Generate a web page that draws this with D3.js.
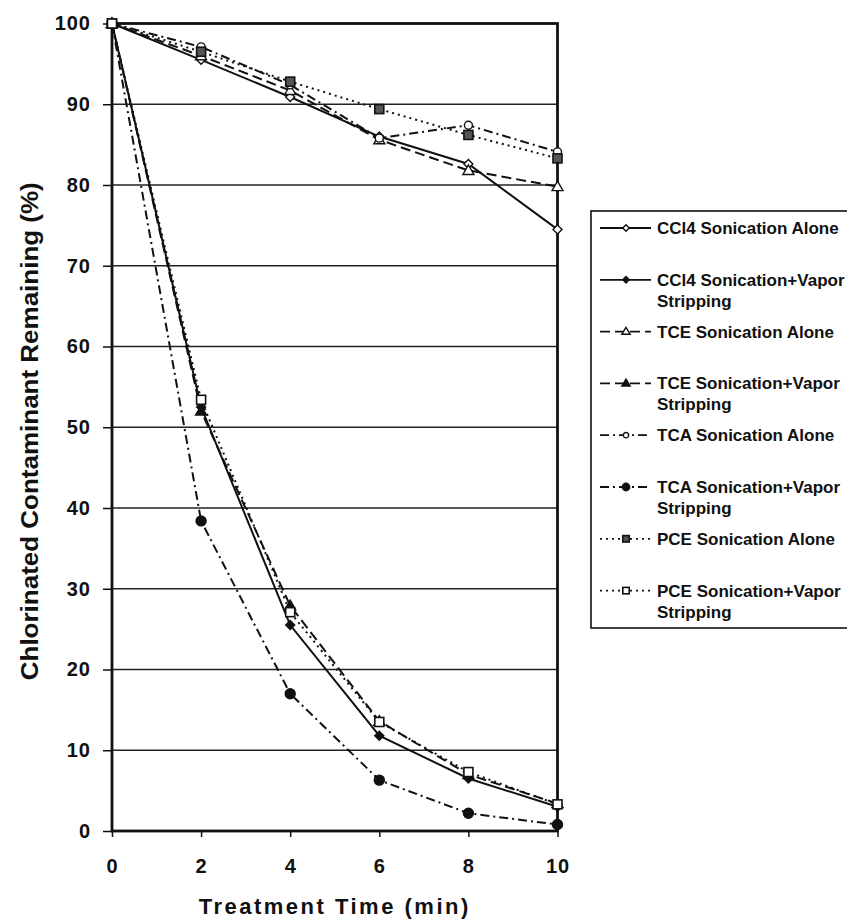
<!DOCTYPE html>
<html>
<head>
<meta charset="utf-8">
<script src="https://cdn.jsdelivr.net/npm/d3@7"></script>
<style>
  body { margin: 0; background: #fff; }
  svg { display: block; }
  text { fill: #111; font-family: "Liberation Sans", Arial, sans-serif; font-weight: bold; }
</style>
</head>
<body>
<svg width="847" height="922"></svg>
<script>
// data
var times = [0, 2, 4, 6, 8, 10];
var ccl4Alone = [100, 95.5, 90.9, 86.0, 82.6, 74.5];
var ccl4Vapor = [100, 52.5, 25.5, 11.8, 6.5, 3.0];
var tceAlone  = [100, 96.0, 91.7, 85.6, 81.8, 79.8];
var tceVapor  = [100, 52.0, 27.9, 13.6, 7.0, 3.4];
var tcaAlone  = [100, 97.1, 92.4, 85.8, 87.4, 84.1];
var tcaVapor  = [100, 38.4, 17.0, 6.3, 2.2, 0.8];
var pceAlone  = [100, 96.5, 92.8, 89.4, 86.2, 83.3];
var pceVapor  = [100, 53.4, 27.1, 13.5, 7.3, 3.3];

var seriesNames = ["CCl4 Sonication Alone", "CCl4 Sonication+Vapor Stripping",
                   "TCE Sonication Alone", "TCE Sonication+Vapor Stripping",
                   "TCA Sonication Alone", "TCA Sonication+Vapor Stripping",
                   "PCE Sonication Alone", "PCE Sonication+Vapor Stripping"];
var seriesValues = [ccl4Alone, ccl4Vapor, tceAlone, tceVapor, tcaAlone, tcaVapor, pceAlone, pceVapor];
var yTicks = [0, 10, 20, 30, 40, 50, 60, 70, 80, 90, 100];
var xTicks = [0, 2, 4, 6, 8, 10];

// line + marker look for each series
var styles = [
  {dash: null,            marker: "diamond",  fill: "#fff"},
  {dash: null,            marker: "diamond",  fill: "#111"},
  {dash: "10,5",          marker: "triangle", fill: "#fff"},
  {dash: "10,5",          marker: "triangle", fill: "#111"},
  {dash: "9,4,2,4",       marker: "circle",   fill: "#fff"},
  {dash: "9,4,2,4",       marker: "circle",   fill: "#111"},
  {dash: "2,4",           marker: "square",   fill: "#555"},
  {dash: "2,4",           marker: "square",   fill: "#fff"}
];

var svg = d3.select("svg");
var plotLeft = 112, plotRight = 557.5, plotTop = 23.5, plotBottom = 831;

var x = d3.scaleLinear().domain([0, 10]).range([plotLeft, plotRight]);
var y = d3.scaleLinear().domain([0, 100]).range([plotBottom, plotTop]);

svg.append("rect").attr("width", 847).attr("height", 922).attr("fill", "#fff");

// gridlines
svg.append("g").selectAll("line")
  .data(yTicks.filter(function(d) { return d > 0 && d < 100; }))
  .enter().append("line")
  .attr("x1", plotLeft).attr("x2", plotRight)
  .attr("y1", function(d) { return y(d); })
  .attr("y2", function(d) { return y(d); })
  .attr("stroke", "#222").attr("stroke-width", 1.3);

// axes
var yAxis = svg.append("g")
  .attr("transform", "translate(" + plotLeft + ",0)")
  .call(d3.axisLeft(y).tickValues(yTicks).tickSize(9).tickPadding(12));
var xAxis = svg.append("g")
  .attr("transform", "translate(0," + plotBottom + ")")
  .call(d3.axisBottom(x).tickValues(xTicks).tickSize(6).tickPadding(22));

[yAxis, xAxis].forEach(function(a) {
  a.select(".domain").remove();
  a.selectAll(".tick line").attr("stroke", "#111").attr("stroke-width", 1.5);
  a.selectAll(".tick text")
    .style("font-size", "20px").style("font-weight", "bold")
    .style("letter-spacing", "1px")
    .style("font-family", "'Liberation Sans', Arial, sans-serif")
    .attr("fill", "#111");
});

// plot frame
svg.append("rect")
  .attr("x", plotLeft).attr("y", plotTop)
  .attr("width", plotRight - plotLeft).attr("height", plotBottom - plotTop)
  .attr("fill", "none").attr("stroke", "#111").attr("stroke-width", 2.8);

// axis titles
svg.append("text")
  .attr("x", (plotLeft + plotRight) / 2).attr("y", 914)
  .attr("text-anchor", "middle")
  .style("font-size", "22px").style("letter-spacing", "2.5px")
  .text("Treatment Time (min)");

svg.append("text")
  .attr("transform", "translate(38," + ((plotTop + plotBottom) / 2 + 4) + ") rotate(-90)")
  .attr("text-anchor", "middle")
  .attr("textLength", 498)
  .attr("lengthAdjust", "spacingAndGlyphs")
  .style("font-size", "24px")
  .text("Chlorinated Contaminant Remaining (%)");

function drawMarker(sel, kind, fill, size) {
  var s = size || 4.5;
  if (kind == "circle") {
    sel.append("circle").attr("r", fill == "#111" ? s + 0.5 : s - 0.5)
      .attr("fill", fill).attr("stroke", "#111").attr("stroke-width", 1.4);
  } else if (kind == "square") {
    sel.append("rect").attr("x", -s).attr("y", -s).attr("width", 2 * s).attr("height", 2 * s)
      .attr("fill", fill).attr("stroke", "#111").attr("stroke-width", 1.6);
  } else if (kind == "triangle") {
    sel.append("path").attr("d", "M0," + (-s - 1) + "L" + (s + 1) + "," + (s - 0.5) + "L" + (-s - 1) + "," + (s - 0.5) + "Z")
      .attr("fill", fill).attr("stroke", "#111").attr("stroke-width", 1.4);
  } else {
    sel.append("path").attr("d", "M0," + (-s) + "L" + s + ",0L0," + s + "L" + (-s) + ",0Z")
      .attr("fill", fill).attr("stroke", "#111").attr("stroke-width", 1.4);
  }
}

var line = d3.line()
  .x(function(d, i) { return x(times[i]); })
  .y(function(d) { return y(d); });

var series = svg.append("g").selectAll("g")
  .data(seriesValues)
  .enter().append("g");

series.append("path")
  .attr("d", function(d) { return line(d); })
  .attr("fill", "none")
  .attr("stroke", "#111")
  .attr("stroke-width", 2)
  .attr("stroke-dasharray", function(d, i) { return styles[i].dash; });

series.each(function(vals, i) {
  var g = d3.select(this);
  vals.forEach(function(v, j) {
    var m = g.append("g").attr("transform", "translate(" + x(times[j]) + "," + y(v) + ")");
    drawMarker(m, styles[i].marker, styles[i].fill);
  });
});

// legend
var legend = svg.append("g");
legend.append("rect")
  .attr("x", 591).attr("y", 211).attr("width", 300).attr("height", 417)
  .attr("fill", "#fff").attr("stroke", "#111").attr("stroke-width", 1.6);

var entry = legend.selectAll("g.entry")
  .data(seriesNames)
  .enter().append("g")
  .attr("class", "entry")
  .attr("transform", function(d, i) { return "translate(0," + (228 + i * 51.8) + ")"; });

entry.append("line")
  .attr("x1", 600).attr("x2", 651).attr("y1", 0).attr("y2", 0)
  .attr("stroke", "#111").attr("stroke-width", 1.8)
  .attr("stroke-dasharray", function(d, i) { return styles[i].dash; });

entry.each(function(name, i) {
  var m = d3.select(this).append("g").attr("transform", "translate(626,0)");
  drawMarker(m, styles[i].marker, styles[i].fill, 3.2);
  var parts = name.split("+Vapor ");
  var t = d3.select(this).append("text")
    .attr("x", 657).attr("y", 6)
    .style("font-size", "17px");
  t.append("tspan").text(parts.length > 1 ? parts[0] + "+Vapor" : name);
  if (parts.length > 1) {
    t.append("tspan").attr("x", 657).attr("dy", 21).text(parts[1]);
  }
});
</script>
</body>
</html>
